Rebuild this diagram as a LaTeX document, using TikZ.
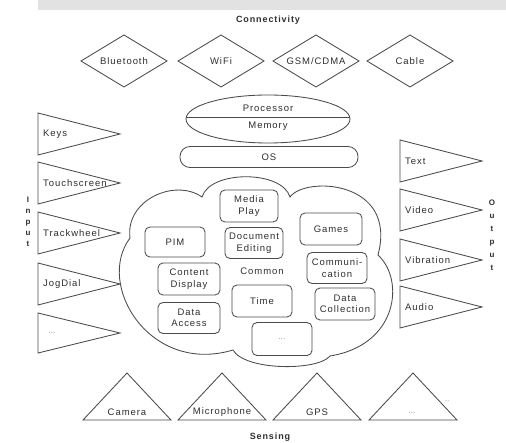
\documentclass[tikz,border=0pt]{standalone}
\usepackage{fontspec}
\setmainfont{Liberation Sans}[LetterSpace=10]
\usetikzlibrary{shapes.geometric}
\definecolor{ln}{HTML}{4A4A4A}
\definecolor{tx}{HTML}{2E2E2E}
\definecolor{band}{HTML}{E2E2E2}
\tikzset{
  shp/.style={draw=ln, line width=0.85pt},
  lbl/.style={font=\fontsize{9.5}{11}\selectfont, text=tx, inner sep=0pt},
  dots/.style={font=\fontsize{6}{7}\selectfont, text=tx, inner sep=0pt},
  appbox/.style={shp, rounded corners=5pt, minimum width=60pt, minimum height=32pt,
    align=center, font=\fontsize{9.5}{11.5}\selectfont, text=tx, inner sep=1pt},
  ttl/.style={font=\bfseries\fontsize{9}{11}\selectfont, text=tx, inner sep=0pt},
  vlbl/.style={font=\bfseries\fontsize{8}{11}\selectfont, text=tx, align=center, inner sep=0pt},
}
\begin{document}
\begin{tikzpicture}[x=1pt,y=-1pt]
\useasboundingbox (0,0) rectangle (506,443);
\fill[band] (38,0) rectangle (506,10);

% Connectivity
\node[ttl] (conn) at (268,20) {Connectivity};
\foreach \n/\x/\t in {bt/124/Bluetooth, wifi/221/WiFi, gsm/316/{GSM/CDMA}, cable/410/Cable}{
  \draw[shp] (\x-43,61) -- (\x,35) -- (\x+43,61) -- (\x,87) -- cycle;
  \node[lbl] (\n) at (\x,61) {\t};
}

% Processor / Memory
\node[shp, ellipse, minimum width=164pt, minimum height=48pt, inner sep=0pt] (cpu) at (268,119) {};
\draw[shp] (cpu.west |- 0,117) -- (cpu.east |- 0,117);
\node[lbl] (proc) at (268,108) {Processor};
\node[lbl] (mem) at (268,126) {Memory};

% OS
\node[shp, rounded corners=10pt, minimum width=178pt, minimum height=21pt, lbl] (os) at (269,157) {OS};

% Input
\foreach \n/\y/\t in {keys/134/Keys, touch/183/Touchscreen, track/233/Trackwheel, jog/284/JogDial}{
  \draw[shp] (38,\y-21) -- (120,\y) -- (38,\y+21) -- cycle;
  \node[lbl, anchor=west] (\n) at (43,\y) {\t};
}
\draw[shp] (38,313) -- (120,333) -- (38,353) -- cycle;
\node[dots] (inmore) at (52,333) {...};
\node[vlbl] (input) at (28,222) {I\\n\\p\\u\\t};

% Output
\foreach \n/\y/\t in {text/161/Text, video/210/Video, vib/260/Vibration, audio/307/Audio}{
  \draw[shp] (400,\y-21) -- (482,\y) -- (400,\y+21) -- cycle;
  \node[lbl, anchor=west] (\n) at (405,\y) {\t};
}
\node[vlbl, font=\bfseries\fontsize{8}{13}\selectfont] (output) at (492,235.5) {O\\u\\t\\p\\u\\t};

% Cloud
\draw[shp] (202,197) .. controls (210,170) and (282,170) .. (290,197)
  .. controls (305,176) and (398,180) .. (378,255)
  .. controls (405,280) and (398,345) .. (330,356)
  .. controls (318,371) and (245,371) .. (233,350)
  .. controls (150,375) and (95,285) .. (130,238)
  .. controls (125,200) and (175,178) .. (202,197) -- cycle;

\node[appbox, minimum width=58pt] (media) at (249,206) {Media\\Play};
\node[appbox, minimum height=30pt] (pim) at (175,242) {PIM};
\node[appbox, minimum width=58pt, minimum height=31pt] (doc) at (254,243) {Document\\Editing};
\node[appbox, minimum width=62pt] (games) at (331,229) {Games};
\node[lbl] (common) at (262,271) {Common};
\node[appbox, minimum width=62pt] (content) at (189,279) {Content\\Display};
\node[appbox, minimum height=31pt] (comm) at (337,268) {Communi-\\cation};
\node[appbox] (time) at (262,301) {Time};
\node[appbox] (collect) at (345,304) {Data\\Collection};
\node[appbox, minimum width=62pt, minimum height=31pt] (access) at (189,318) {Data\\Access};
\node[appbox, minimum height=33pt, font=\fontsize{6}{7}\selectfont] (appmore) at (282,339) {...};

% Sensing
\foreach \n/\x/\t in {cam/127/Camera, mic/222/Microphone, gps/317/GPS}{
  \draw[shp] (\x-44,420) -- (\x,373) -- (\x+44,420) -- cycle;
  \node[lbl] (\n) at (\x,412) {\t};
}
\draw[shp] (369,420) -- (413,373) -- (457,420) -- cycle;
\node[dots] (smore) at (412,413) {...};
\node[dots, font=\fontsize{4.5}{5}\selectfont] (smore2) at (447,401) {...};
\node[ttl] (sens) at (270,437) {Sensing};
\end{tikzpicture}
\end{document}
